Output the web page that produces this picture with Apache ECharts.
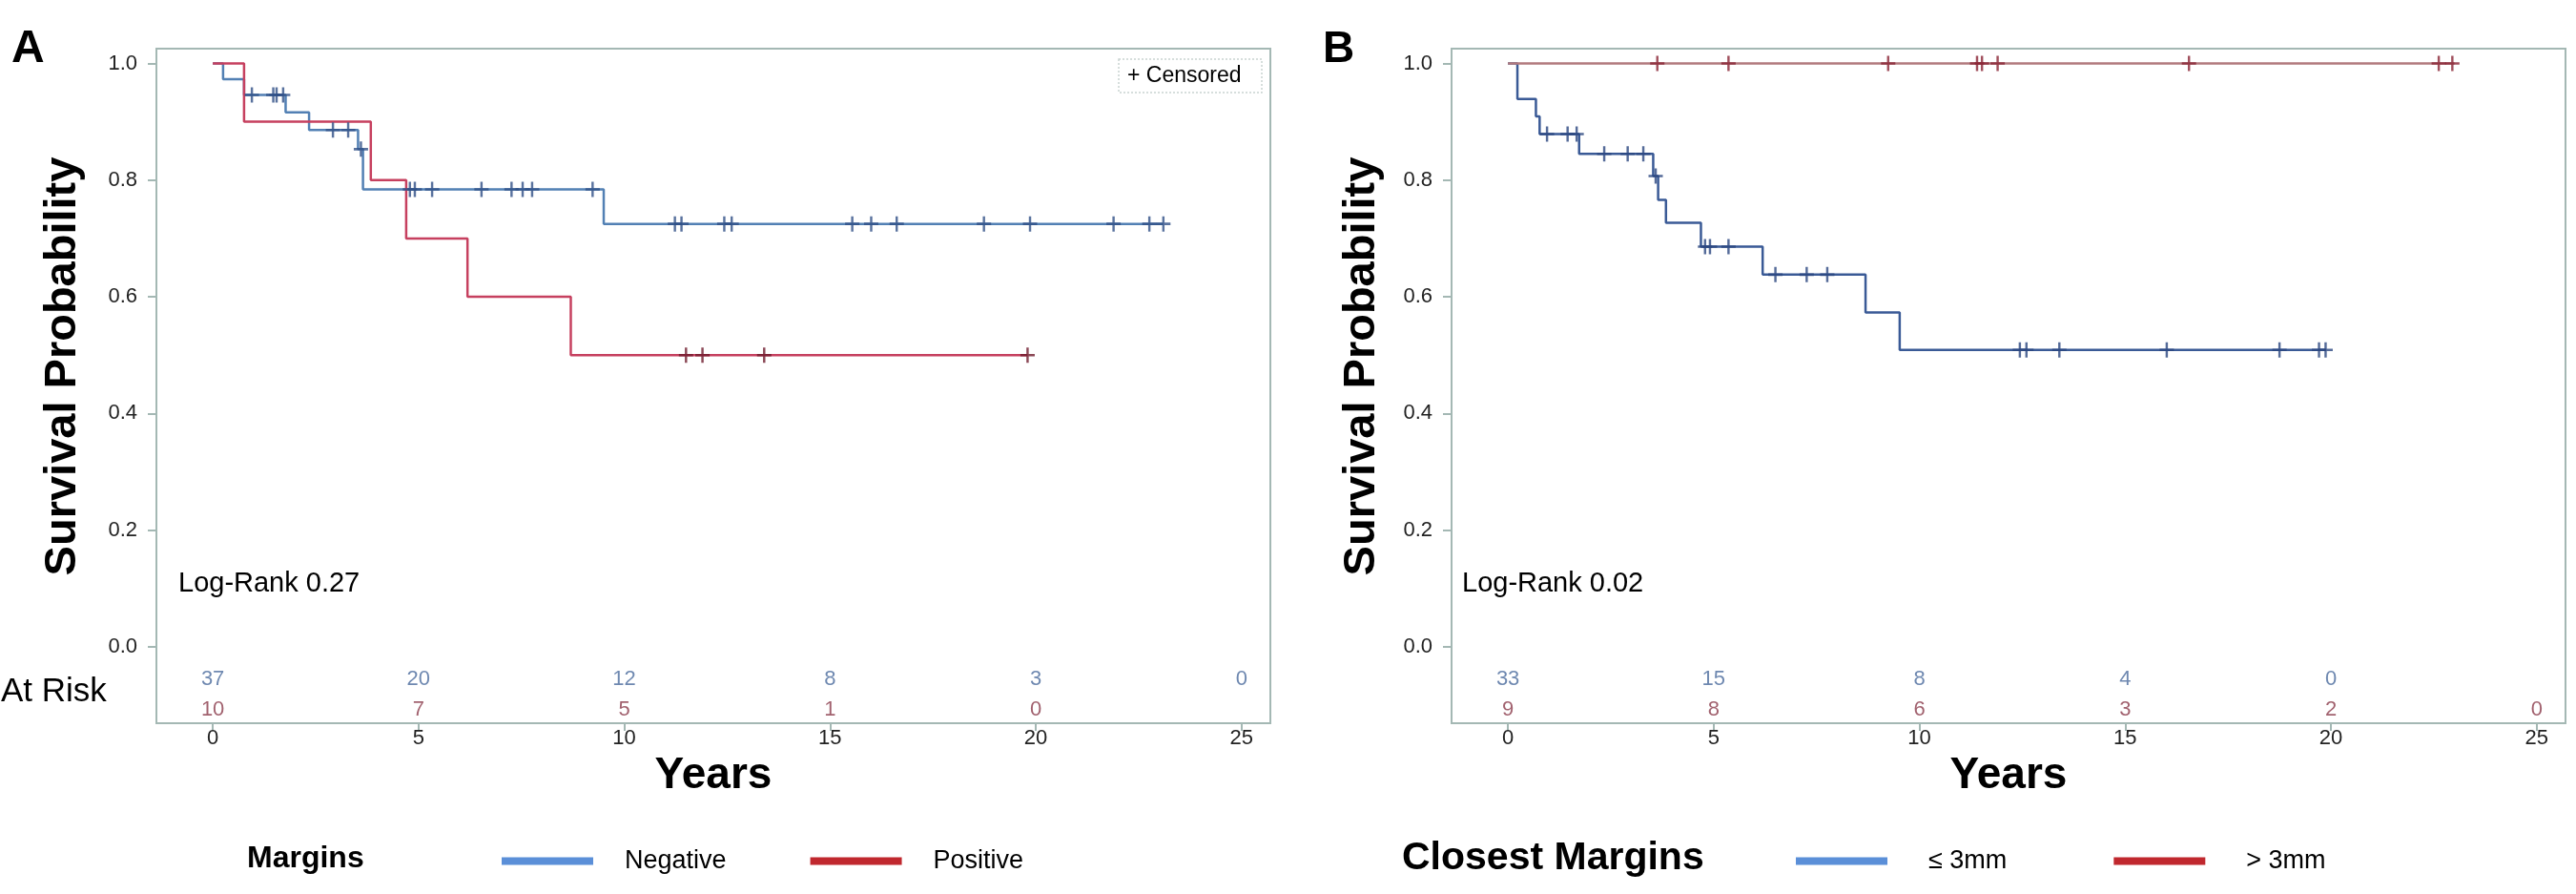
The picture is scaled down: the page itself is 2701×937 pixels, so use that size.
<!DOCTYPE html>
<html><head><meta charset="utf-8">
<script src="https://cdn.jsdelivr.net/npm/echarts@6/dist/echarts.min.js"></script>
<style>html,body{margin:0;padding:0;background:#fff}#c{width:2701px;height:937px}</style>
</head><body><div id="c"></div>
<script>
// ---------- Data ----------
// Panel A: Margins (Negative / Positive)
const aNegStepT = [0, 0.25, 0.76, 1.77, 2.34, 3.53, 3.65, 9.5, 23.1];
const aNegStepS = [1.0, 0.973, 0.946, 0.916, 0.886, 0.853, 0.784, 0.725, 0.725];
const aNegCensT = [0.95, 1.47, 1.55, 1.71, 2.92, 3.29, 3.6, 4.79, 4.91, 5.33, 6.53, 7.26, 7.53, 7.76, 9.23,
                   11.23, 11.39, 12.43, 12.61, 15.54, 16.0, 16.62, 18.74, 19.86, 21.89, 22.76, 23.1];
const aPosStepT = [0, 0.76, 3.84, 4.70, 6.19, 8.70, 19.8];
const aPosStepS = [1.0, 0.9, 0.8, 0.7, 0.6, 0.5, 0.5];
const aPosCensT = [11.5, 11.9, 13.4, 19.8];
// Panel B: Closest Margins (<= 3mm / > 3mm)
const bLowStepT = [0, 0.23, 0.68, 0.77, 1.73, 3.53, 3.65, 3.84, 4.69, 6.19, 8.69, 9.52, 19.87];
const bLowStepS = [1.0, 0.939, 0.909, 0.879, 0.845, 0.807, 0.766, 0.727, 0.686, 0.638, 0.573, 0.509, 0.509];
const bLowCensT = [0.95, 1.45, 1.67, 2.34, 2.91, 3.29, 3.59, 4.79, 4.91, 5.36, 6.5, 7.26, 7.76,
                   12.44, 12.6, 13.4, 16.01, 18.75, 19.71, 19.87];
const bHighStepT = [0, 23.0];
const bHighStepS = [1.0, 1.0];
const bHighCensT = [3.63, 5.36, 9.24, 11.4, 11.52, 11.9, 16.55, 22.62, 22.95];
// Number at risk
const riskTimes = [0, 5, 10, 15, 20, 25];
const aNegRisk = [37, 20, 12, 8, 3, 0];
const aPosRisk = [10, 7, 5, 1, 0];
const bLowRisk = [33, 15, 8, 4, 0];
const bHighRisk = [9, 8, 6, 3, 2, 0];
// Axis ticks
const xTicks = [0, 5, 10, 15, 20, 25];
const yTicks = [0, 0.2, 0.4, 0.6, 0.8, 1.0];
const seriesNames = { aNeg: 'Negative', aPos: 'Positive', bLow: '≤ 3mm', bHigh: '> 3mm' };

// ---------- Helpers ----------
function steps(T, S) { return T.map((t, i) => [t, S[i]]); }
function levelAt(T, S, t) { let v = S[0]; for (let i = 0; i < T.length; i++) if (T[i] <= t) v = S[i]; return v; }
function cens(T, S, C) { return C.map(t => [t, levelAt(T, S, t)]); }
function risk(counts) { return counts.map((n, i) => [riskTimes[i], n]); }

const FONT = "'Liberation Sans', Arial, sans-serif";
const PLUS = 'path://M-1.3,-8H1.3V-1.3H8V1.3H1.3V8H-1.3V1.3H-8V-1.3H-1.3Z';
const FRAME = '#a4b8b4';
const ROW1 = -0.055, ROW2 = -0.108;

function lineSeries(name, gi, data, color) {
  return { type: 'line', name, xAxisIndex: gi, yAxisIndex: gi, step: 'end', data,
    showSymbol: false, silent: true, lineStyle: { color, width: 2.5 }, itemStyle: { color }, z: 3 };
}
function censSeries(name, gi, data, color) {
  return { type: 'scatter', name, xAxisIndex: gi, yAxisIndex: gi, data, symbol: PLUS,
    symbolSize: [15, 16], silent: true, itemStyle: { color }, z: 4 };
}
function riskSeries(name, gi, counts, row, color) {
  return { type: 'scatter', name, xAxisIndex: gi, yAxisIndex: gi,
    data: risk(counts).map(d => [d[0], row, d[1]]), symbolSize: 1, silent: true,
    itemStyle: { color: 'rgba(0,0,0,0)' },
    label: { show: true, position: 'inside', formatter: p => String(p.value[2]),
      fontFamily: FONT, fontSize: 22, color } };
}
function xAx(gi) {
  return { type: 'value', gridIndex: gi, min: -1.37, max: 25.7,
    name: 'Years', nameLocation: 'middle', nameGap: 22,
    nameTextStyle: { fontFamily: FONT, fontSize: 46, fontWeight: 'bold', color: '#000' },
    axisLine: { show: false, onZero: false }, splitLine: { show: false },
    axisTick: { show: true, customValues: xTicks, length: 8, lineStyle: { color: FRAME, width: 2 } },
    axisLabel: { show: true, customValues: xTicks, margin: 5, fontFamily: FONT, fontSize: 22, color: '#222',
      formatter: v => String(Math.round(v)) } };
}
function yAx(gi) {
  return { type: 'value', gridIndex: gi, min: -0.1309, max: 1.0253,
    axisLine: { show: false, onZero: false }, splitLine: { show: false },
    axisTick: { show: true, customValues: yTicks, length: 9, lineStyle: { color: FRAME, width: 2 } },
    axisLabel: { show: true, customValues: yTicks, margin: 20, fontFamily: FONT, fontSize: 22, color: '#222',
      formatter: v => v.toFixed(1) } };
}
function txt(x, y, text, font, opts) {
  return Object.assign({ type: 'text', x, y, silent: true,
    style: { text, font, fill: '#000', align: 'left', verticalAlign: 'middle',
      textAlign: 'left', textVerticalAlign: 'middle' } }, opts || {});
}
function vtxt(x, y, text, font) {
  return { type: 'text', x, y, rotation: Math.PI / 2, silent: true,
    style: { text, font, fill: '#000', align: 'center', verticalAlign: 'middle',
      textAlign: 'center', textVerticalAlign: 'middle' } };
}
function legendItems(names, colors) { return names.map((n, i) => ({ name: n, itemStyle: { color: colors[i] } })); }
function legendOf(left, names, gap, pad) {
  return { left, top: 884, orient: 'horizontal', icon: 'rect', itemWidth: 96, itemHeight: 8, itemGap: gap,
    selectedMode: false, data: legendItems(names, ['#5b8fd8', '#c0282e']),
    textStyle: { fontFamily: FONT, fontSize: 27, color: '#000', padding: [0, 0, 0, pad] } };
}

const chart = echarts.init(document.getElementById('c'), null, { renderer: 'canvas' });
chart.setOption({
  animation: false,
  backgroundColor: '#fff',
  grid: [
    { left: 164, top: 51, width: 1168, height: 707, show: true, borderColor: FRAME, borderWidth: 2, containLabel: false },
    { left: 1522, top: 51, width: 1168, height: 707, show: true, borderColor: FRAME, borderWidth: 2, containLabel: false }
  ],
  xAxis: [xAx(0), xAx(1)],
  yAxis: [yAx(0), yAx(1)],
  legend: [
    legendOf(521, [seriesNames.aNeg, seriesNames.aPos], 88, 28),
    legendOf(1878, [seriesNames.bLow, seriesNames.bHigh], 112, 38)
  ],
  series: [
    lineSeries(seriesNames.aNeg, 0, steps(aNegStepT, aNegStepS), '#5280b4'),
    lineSeries(seriesNames.aPos, 0, steps(aPosStepT, aPosStepS), '#c6405f'),
    censSeries('Negative censored', 0, cens(aNegStepT, aNegStepS, aNegCensT), '#2f4f86'),
    censSeries('Positive censored', 0, cens(aPosStepT, aPosStepS, aPosCensT), '#6e1a2c'),
    riskSeries('Negative at risk', 0, aNegRisk, ROW1, '#4a6a9c'),
    riskSeries('Positive at risk', 0, aPosRisk, ROW2, '#8a3a4a'),
    lineSeries(seriesNames.bLow, 1, steps(bLowStepT, bLowStepS), '#3a5a96'),
    lineSeries(seriesNames.bHigh, 1, steps(bHighStepT, bHighStepS), '#b27a7e'),
    censSeries('Low censored', 1, cens(bLowStepT, bLowStepS, bLowCensT), '#2a4680'),
    censSeries('High censored', 1, cens(bHighStepT, bHighStepS, bHighCensT), '#8a2434'),
    riskSeries('Low at risk', 1, bLowRisk, ROW1, '#4a6a9c'),
    riskSeries('High at risk', 1, bHighRisk, ROW2, '#8a3a4a')
  ],
  graphic: [
    txt(12, 52, 'A', 'bold 48px ' + FONT),
    txt(1387, 52, 'B', 'bold 46px ' + FONT),
    vtxt(66, 384, 'Survival Probability', 'bold 47px ' + FONT),
    vtxt(1428, 384, 'Survival Probability', 'bold 47px ' + FONT),
    txt(187, 612, 'Log-Rank 0.27', '29px ' + FONT),
    txt(1533, 612, 'Log-Rank 0.02', '29px ' + FONT),
    txt(1, 725, 'At Risk', '35px ' + FONT),
    txt(259, 900, 'Margins', 'bold 32px ' + FONT),
    txt(1470, 900, 'Closest Margins', 'bold 41px ' + FONT),
    { type: 'rect', silent: true, shape: { x: 1173, y: 62, width: 150, height: 35 },
      style: { fill: '#fff', stroke: '#c9d3d1', lineWidth: 1.5, lineDash: [2, 2] } },
    txt(1182, 80, '+ Censored', '23px ' + FONT)
  ]
});
</script>
</body></html>
